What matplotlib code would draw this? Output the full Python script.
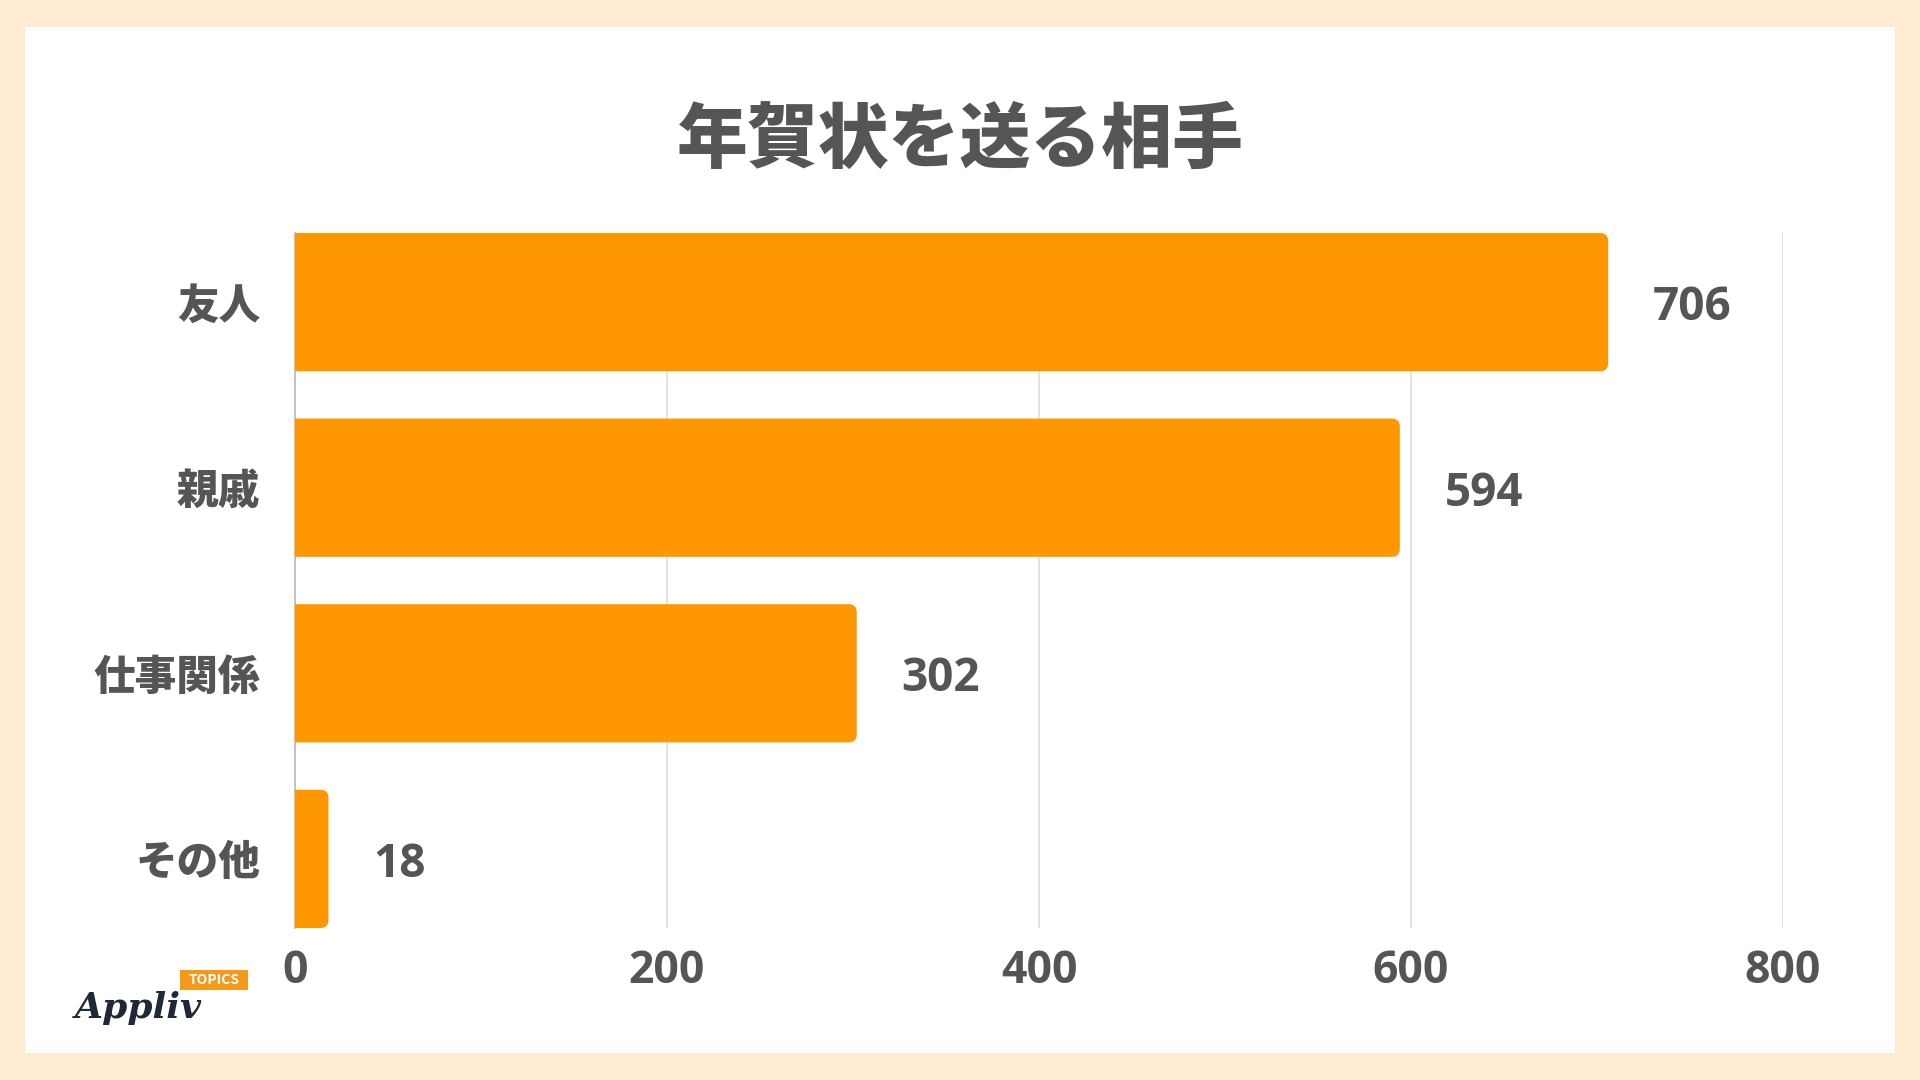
import matplotlib
matplotlib.use("Agg")
import matplotlib.pyplot as plt
from matplotlib.patches import FancyBboxPatch, Rectangle

plt.rcParams['font.family'] = ['Noto Sans CJK JP', 'DejaVu Sans']

# data
categories = ["友人", "親戚", "仕事関係", "その他"]
values = [706, 594, 302, 18]
xticks = [0, 200, 400, 600, 800]
title = "年賀状を送る相手"

bar_color = "#FF9700"
text_color = "#555555"
bg_color = "#FEEBD2"

fig = plt.figure(figsize=(19.2, 10.8), dpi=100)
fig.patch.set_facecolor(bg_color)

# white panel
fig.patches.append(Rectangle((25/1920, 1 - 1053/1080), (1895-25)/1920, (1053-27)/1080,
                             transform=fig.transFigure, facecolor="white",
                             edgecolor="none", zorder=-5))

ax = fig.add_axes([295/1920, 1 - 928/1080, (1783-295)/1920, (928-233)/1080])
ax.set_facecolor("none")
ax.set_zorder(2)

h = 0.745
ax.set_xlim(0, 800)
ax.set_ylim(len(categories) - 1 + h/2, -h/2)

# rounded bars, left corners clipped by the axes
rx = 4.3
for i, v in enumerate(values):
    p = FancyBboxPatch((-rx * 2, i - h/2), v + rx * 2, h,
                       boxstyle=f"round,pad=0,rounding_size={rx}",
                       mutation_aspect=0.0101,
                       facecolor=bar_color, edgecolor="none", zorder=3)
    ax.add_patch(p)
    ax.text(v + 24, i + 0.03, str(v), va="center", ha="left", fontsize=33,
            fontweight="bold", color=text_color, family=["Open Sans", "DejaVu Sans"])

ax.set_xticks(xticks)
ax.set_xticklabels([str(t) for t in xticks], fontsize=32, fontweight="bold",
                   color=text_color, family=["Open Sans", "DejaVu Sans"])
ax.set_yticks(range(len(categories)))
ax.set_yticklabels(categories, fontsize=30, fontweight="black", color=text_color)
ax.tick_params(axis="both", length=0)
ax.tick_params(axis="x", pad=15)
ax.tick_params(axis="y", pad=25)

ax.grid(axis="x", color="#DDDDDD", linewidth=1.2, zorder=0)
ax.set_axisbelow(True)
for s in ["top", "right", "bottom"]:
    ax.spines[s].set_visible(False)
ax.spines["left"].set_color("#BBBBBB")
ax.spines["left"].set_linewidth(1.2)

fig.text(0.5, 1 - 141/1080, title, ha="center", va="center", fontsize=51,
         fontweight="black", color=text_color)

# logo
fig.text(75/1920, 1 - 1018/1080, "Appliv", ha="left", va="baseline", fontsize=26,
         style="italic", fontweight="bold", color="#1E2838", family="DejaVu Serif")
fig.patches.append(Rectangle((180/1920, 1 - 990/1080), 68/1920, 20/1080,
                             transform=fig.transFigure, facecolor="#F39A1A",
                             edgecolor="none", zorder=2))
fig.text(214/1920, 1 - 980/1080, "TOPICS", ha="center", va="center", fontsize=10,
         fontweight="bold", color="white", zorder=3)

fig.savefig("out.png", dpi=100, facecolor=fig.get_facecolor())
